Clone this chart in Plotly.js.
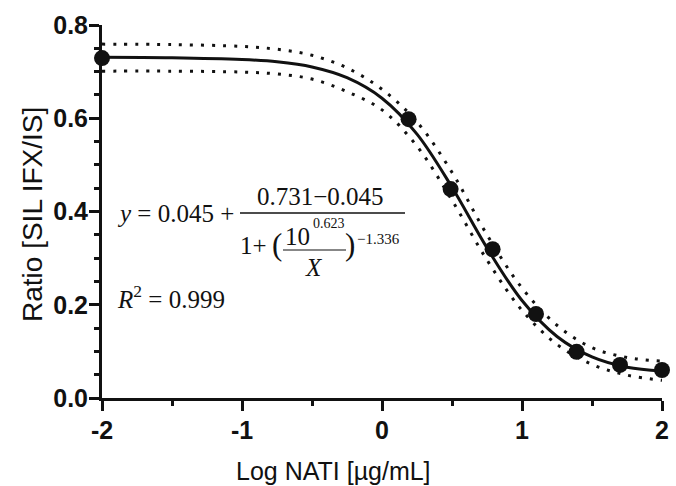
<!DOCTYPE html>
<html>
<head>
<meta charset="utf-8">
<script src="https://cdn.plot.ly/plotly-3.0.1.min.js"></script>
<style>
  html, body { margin: 0; padding: 0; background: #fff; }
  #chart { width: 676px; height: 486px; }
</style>
</head>
<body>
<div id="chart"></div>
<script>
// Measured points: log concentration vs ratio
const logConc = [-2, 0.19, 0.49, 0.79, 1.10, 1.39, 1.70, 2.00];
const ratio   = [0.729, 0.598, 0.448, 0.319, 0.180, 0.099, 0.071, 0.060];

// Fitted curve and its confidence band
const fitX   = [-2, -1.5, -1, -0.75, -0.5, -0.25, 0, 0.25, 0.5, 0.75, 1, 1.25, 1.5, 1.75, 2];
const fitY   = [0.731, 0.730, 0.726, 0.721, 0.710, 0.687, 0.643, 0.566, 0.452, 0.322, 0.209, 0.132, 0.088, 0.066, 0.058];
const upperY = [0.759, 0.758, 0.754, 0.748, 0.735, 0.708, 0.662, 0.592, 0.484, 0.350, 0.236, 0.156, 0.108, 0.087, 0.079];
const lowerY = [0.701, 0.701, 0.699, 0.695, 0.684, 0.657, 0.618, 0.540, 0.424, 0.296, 0.188, 0.115, 0.072, 0.049, 0.038];

// Tick labels
const xTickVals = [-2, -1, 0, 1, 2];
const xTickText = ['-2', '-1', '0', '1', '2'];
const xMinorVals = [-1.5, -0.5, 0.5, 1.5];
const yTickVals = [0, 0.2, 0.4, 0.6, 0.8];
const yTickText = ['0.0', '0.2', '0.4', '0.6', '0.8'];
const yMinorVals = [0.05, 0.1, 0.15, 0.25, 0.3, 0.35, 0.45, 0.5, 0.55, 0.65, 0.7, 0.75];

const xTitle = 'Log NATI [µg/mL]';
const yTitle = 'Ratio [SIL IFX/IS]';

const INK = '#111';
const SERIF = 'Liberation Serif, Times New Roman, serif';
const SANS = 'Liberation Sans, Arial, sans-serif';

const bandLine = { color: INK, width: 3, dash: '3px,8px', shape: 'spline' };

const traces = [
  { x: fitX, y: upperY, mode: 'lines', line: bandLine, hoverinfo: 'skip', cliponaxis: false },
  { x: fitX, y: lowerY, mode: 'lines', line: bandLine, hoverinfo: 'skip', cliponaxis: false },
  { x: fitX, y: fitY, mode: 'lines', line: { color: INK, width: 3, shape: 'spline' }, cliponaxis: false },
  { x: logConc, y: ratio, mode: 'markers', marker: { color: INK, size: 16 }, cliponaxis: false }
];

// pixel helpers for layout-only text placement (plot area 102..662 x 25..398)
const px = v => (v - 102) / 560;
const py = v => (398 - v) / 373;

function ann(text, x, y, opts) {
  return Object.assign({
    text: text, xref: 'paper', yref: 'paper', x: px(x), y: py(y),
    xanchor: 'center', yanchor: 'middle', showarrow: false,
    font: { family: SERIF, size: 25, color: INK }, borderpad: 0
  }, opts || {});
}

const annotations = [
  ann('<i>y</i> = 0.045 +', 116, 213, { xanchor: 'left' }),
  ann('0.731−0.045', 320, 196),
  ann('1+', 239, 246, { xanchor: 'left' }),
  ann('(', 277, 245, { font: { family: SERIF, size: 31, color: INK } }),
  ann('10', 297, 237),
  ann('0.623', 312, 223, { xanchor: 'left', font: { family: SERIF, size: 14, color: INK } }),
  ann('<i>X</i>', 314, 267),
  ann(')', 350, 245, { font: { family: SERIF, size: 31, color: INK } }),
  ann('−1.336', 356, 239, { xanchor: 'left', font: { family: SERIF, size: 15, color: INK } }),
  ann('<i>R</i><sup>2</sup> = 0.999', 116, 297, { xanchor: 'left' }),
  ann(xTitle, 333, 471, { font: { family: SANS, size: 25, color: INK } }),
  ann(yTitle, 32, 215, { textangle: -90, font: { family: SANS, size: 28, color: INK } })
];

const shapes = [
  { type: 'line', xref: 'paper', yref: 'paper', x0: px(240), x1: px(405), y0: py(213), y1: py(213), line: { color: INK, width: 1.3 } },
  { type: 'line', xref: 'paper', yref: 'paper', x0: px(283), x1: px(346), y0: py(250), y1: py(250), line: { color: INK, width: 1.2 } }
];

const tickFont = { family: SANS, size: 25, color: INK, weight: 'bold' };

const layout = {
  width: 676, height: 486,
  margin: { l: 102, r: 14, t: 25, b: 88 },
  paper_bgcolor: '#fff', plot_bgcolor: '#fff',
  showlegend: false,
  xaxis: {
    range: [-2, 2], showgrid: false, zeroline: false,
    showline: true, linecolor: INK, linewidth: 3,
    tickmode: 'array', tickvals: xTickVals, ticktext: xTickText,
    ticks: 'outside', ticklen: 10, tickwidth: 3, tickcolor: INK,
    tickfont: tickFont, ticklabelstandoff: -2,
    minor: { tickmode: 'array', tickvals: xMinorVals, ticks: 'outside', ticklen: 5, tickwidth: 3, tickcolor: INK, showgrid: false }
  },
  yaxis: {
    range: [0, 0.8], showgrid: false, zeroline: false,
    showline: true, linecolor: INK, linewidth: 3,
    tickmode: 'array', tickvals: yTickVals, ticktext: yTickText,
    ticks: 'outside', ticklen: 10, tickwidth: 3, tickcolor: INK,
    tickfont: tickFont, ticklabelstandoff: -4,
    minor: { tickmode: 'array', tickvals: yMinorVals, ticks: 'outside', ticklen: 5, tickwidth: 3, tickcolor: INK, showgrid: false }
  },
  annotations: annotations,
  shapes: shapes
};

Plotly.newPlot('chart', traces, layout, { displayModeBar: false, staticPlot: true });
</script>
</body>
</html>
